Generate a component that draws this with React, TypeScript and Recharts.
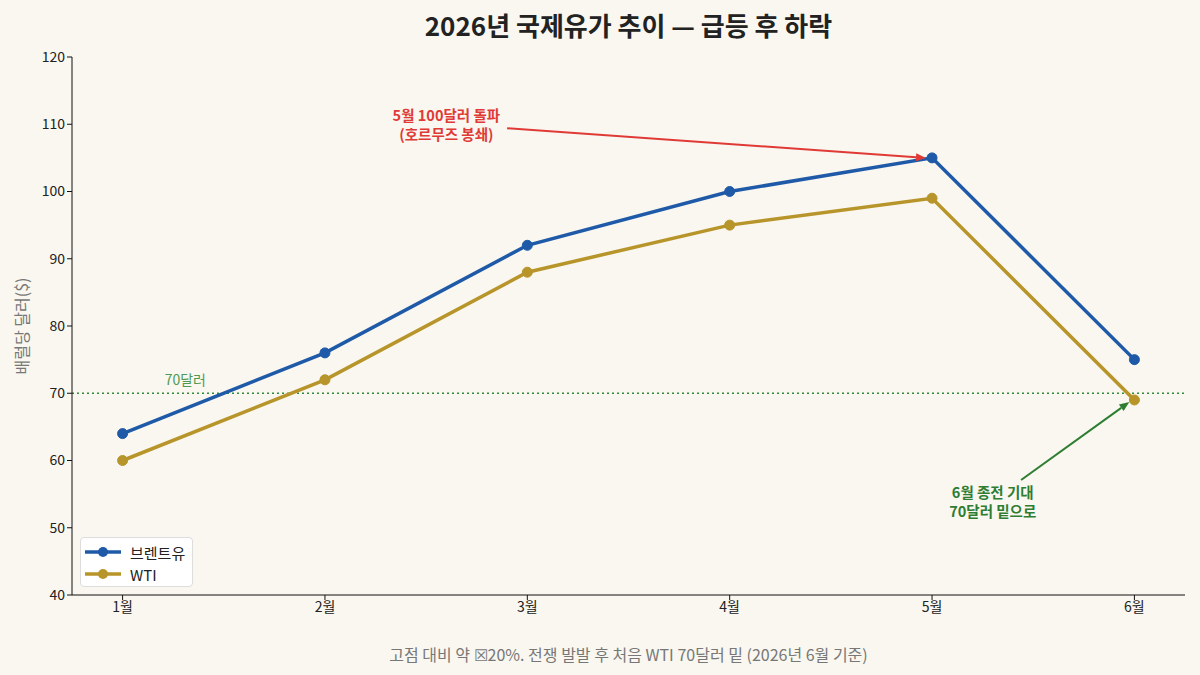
import { LineChart, Line, XAxis, YAxis, ReferenceLine, ReferenceDot } from 'recharts'

const months = ['1월', '2월', '3월', '4월', '5월', '6월']
const brent = [64, 76, 92, 100, 105, 75]
const wti = [60, 72, 88, 95, 99, 69]
const yTicks = [40, 50, 60, 70, 80, 90, 100, 110, 120]

const series = [
  { key: 'brent', name: '브렌트유', color: '#1f5aa8' },
  { key: 'wti', name: 'WTI', color: '#b8952a' },
]

// annotation: text centre + arrow (x in month index, y in $)
const notes = [
  { lines: ['5월 100달러 돌파', '(호르무즈 봉쇄)'], color: '#e03a36', tx: 1.6, ty: 110, from: { x: 1.9, y: 109.4 }, to: { x: 3.97, y: 105 } },
  { lines: ['6월 종전 기대', '70달러 밑으로'], color: '#2e7d32', tx: 4.3, ty: 54, from: { x: 4.44, y: 57.1 }, to: { x: 4.975, y: 68.7 } },
]

const FONT = '"Noto Sans CJK KR", "Noto Sans", sans-serif'
const BG = '#f9f7ef'
const LINE_H = 19

const data = months.map((m, i) => ({ i, month: m, brent: brent[i], wti: wti[i] }))

const arrow = (color: string) => (p: any) => {
  const { x1, y1, x2, y2 } = p
  const ang = Math.atan2(y2 - y1, x2 - x1)
  const L = 10, W = 4
  const bx = x2 - L * Math.cos(ang), by = y2 - L * Math.sin(ang)
  const px = -Math.sin(ang) * W, py = Math.cos(ang) * W
  return (
    <g>
      <line x1={x1} y1={y1} x2={bx} y2={by} stroke={color} strokeWidth={2} />
      <polygon points={`${x2},${y2} ${bx + px},${by + py} ${bx - px},${by - py}`} fill={color} />
    </g>
  )
}

const noteText = (lines: string[], color: string) => (p: any) => (
  <g>
    {lines.map((l, k) => (
      <text key={k} x={p.cx} y={p.cy + (k - (lines.length - 1) / 2) * LINE_H} textAnchor="middle"
        dominantBaseline="central" fill={color} style={{ fontFamily: FONT, fontSize: 14.5, fontWeight: 700 }}>
        {l}
      </text>
    ))}
  </g>
)

export default function App() {
  return (
    <div style={{ position: 'absolute', left: 0, top: 0, width: 1200, height: 675, background: BG, fontFamily: FONT }}>
      <div style={{ position: 'absolute', left: 72, width: 1113, top: 6, textAlign: 'center', fontSize: 26, fontWeight: 700, color: '#222' }}>
        2026년 국제유가 추이 — 급등 후 하락
      </div>
      <LineChart width={1200} height={675} data={data} margin={{ top: 57, right: 15, left: 0, bottom: 0 }}>
        <XAxis type="number" dataKey="i" domain={[-0.25, 5.25]} ticks={[0, 1, 2, 3, 4, 5]}
          tickFormatter={(v: number) => months[v]} height={80} allowDataOverflow
          stroke="#111" tickSize={5} tick={{ fill: '#222', fontSize: 14, fontFamily: FONT }} />
        <YAxis domain={[40, 120]} ticks={yTicks} width={72} stroke="#111" tickSize={5}
          tick={{ fill: '#222', fontSize: 14, fontFamily: FONT }}
          label={{ value: '배럴당 달러($)', angle: -90, position: 'center', dx: -14, fill: '#777', fontSize: 16, fontFamily: FONT }} />
        <ReferenceLine y={70} stroke="#2e8b3a" strokeWidth={1.6} strokeDasharray="2 3" />
        <ReferenceDot x={0.31} y={71.3} r={0} ifOverflow="visible"
          shape={(p: any) => <text x={p.cx} y={p.cy} textAnchor="middle" fill="#4f9a52" style={{ fontFamily: FONT, fontSize: 14 }}>70달러</text>} />
        {series.map(s => (
          <Line key={s.key} dataKey={s.key} name={s.name} stroke={s.color} strokeWidth={3.5}
            dot={{ r: 5, fill: s.color, stroke: s.color, strokeWidth: 1 }} activeDot={false} isAnimationActive={false} />
        ))}
        {notes.map((n, k) => (
          <ReferenceLine key={'a' + k} segment={[n.from, n.to]} ifOverflow="visible" shape={arrow(n.color)} />
        ))}
        {notes.map((n, k) => (
          <ReferenceDot key={'t' + k} x={n.tx} y={n.ty} r={0} ifOverflow="visible" shape={noteText(n.lines, n.color)} />
        ))}
      </LineChart>
      <div style={{ position: 'absolute', left: 80, top: 537, width: 113, height: 50, background: '#fff', border: '1px solid #ddd', borderRadius: 4, boxSizing: 'border-box', padding: '3px 0 0 4px' }}>
        {series.map(s => (
          <div key={s.key} style={{ display: 'flex', alignItems: 'center', height: 22, fontSize: 15, color: '#222' }}>
            <svg width={36} height={14} style={{ marginRight: 9 }}>
              <line x1={0} y1={7} x2={36} y2={7} stroke={s.color} strokeWidth={3.5} />
              <circle cx={18} cy={7} r={5} fill={s.color} />
            </svg>
            {s.name}
          </div>
        ))}
      </div>
      <div style={{ position: 'absolute', left: 72, width: 1113, top: 642, textAlign: 'center', fontSize: 16, color: '#777' }}>
        고점 대비 약 ☒20%. 전쟁 발발 후 처음 WTI 70달러 밑 (2026년 6월 기준)
      </div>
    </div>
  )
}
